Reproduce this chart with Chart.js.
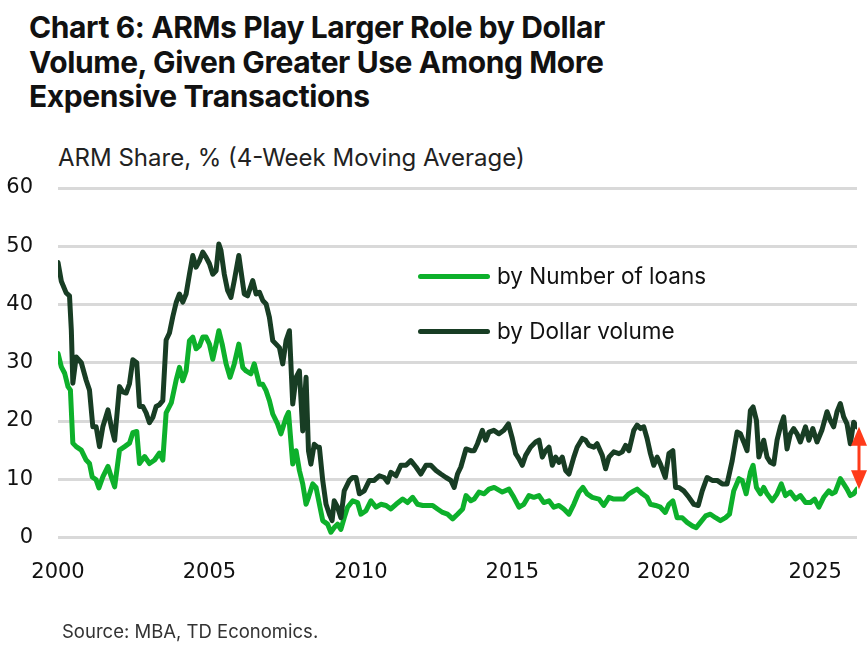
<!DOCTYPE html>
<html>
<head>
<meta charset="utf-8">
<script src="https://cdn.jsdelivr.net/npm/chart.js@4.4.1/dist/chart.umd.min.js"></script>
<style>
	body { margin: 0; background: #ffffff; font-family: "Inter", "Noto Sans", sans-serif; color: #111; }
	#wrap { position: relative; width: 868px; height: 648px; overflow: hidden; }
	#title { position: absolute; left: 29px; top: 10px; font-size: 30px; font-weight: 700; line-height: 34.5px; letter-spacing: -0.4px; color: #111; }
	#subTitle { position: absolute; left: 58px; top: 143px; font-size: 24px; color: #222; }
	#source { position: absolute; left: 62px; top: 620px; font-size: 18.5px; color: #333; }
	.legItem { position: absolute; left: 418px; font-size: 22.5px; color: #111; white-space: nowrap; }
	.legLine { display: inline-block; width: 72px; height: 5px; border-radius: 3px; vertical-align: middle; margin-right: 7px; position: relative; top: -1px; }
	#chartCanvas { position: absolute; left: 0; top: 0; }
</style>
</head>
<body>
<div id="wrap">
	<div id="title">Chart 6: ARMs Play Larger Role by Dollar<br>Volume, Given Greater Use Among More<br>Expensive Transactions</div>
	<div id="subTitle">ARM Share, % (4-Week Moving Average)</div>
	<canvas id="chartCanvas" width="868" height="648"></canvas>
	<div class="legItem" id="legNum" style="top: 262px;"></div>
	<div class="legItem" id="legDol" style="top: 317px;"></div>
	<div id="source">Source: MBA, TD Economics.</div>
</div>

<script>
//x축 눈금 (년)
var yearTicks = [2000, 2005, 2010, 2015, 2020, 2025];

//by Number of loans
var numYears = [2000.00,2000.11,2000.22,2000.33,2000.41,2000.49,2000.60,2000.77,2000.93,
	2001.04,2001.13,2001.26,2001.35,2001.48,2001.65,2001.76,2001.87,
	2002.03,2002.20,2002.36,2002.47,2002.60,2002.69,2002.86,
	2003.02,2003.19,2003.35,2003.46,2003.57,2003.74,2003.90,
	2004.01,2004.12,2004.23,2004.34,2004.45,2004.56,2004.67,2004.78,2004.89,
	2005.00,2005.11,2005.22,2005.31,2005.42,2005.55,2005.68,2005.82,2005.97,
	2006.10,2006.21,2006.37,2006.48,2006.65,2006.76,2006.87,2006.98,
	2007.09,2007.25,2007.36,2007.53,2007.61,2007.75,2007.86,2007.97,
	2008.08,2008.19,2008.27,2008.41,2008.52,2008.74,2008.90,
	2009.01,2009.12,2009.23,2009.34,2009.45,2009.56,2009.73,2009.89,
	2010.00,2010.17,2010.33,2010.50,2010.66,2010.83,2010.99,
	2011.16,2011.38,2011.54,2011.71,2011.87,
	2012.04,2012.20,2012.37,2012.53,2012.70,2012.86,
	2013.03,2013.19,2013.36,2013.47,2013.63,2013.74,2013.90,
	2014.07,2014.23,2014.40,2014.67,2014.89,
	2015.05,2015.22,2015.38,2015.55,2015.71,2015.88,
	2016.04,2016.21,2016.37,2016.54,2016.70,2016.87,
	2017.03,2017.20,2017.33,2017.47,2017.64,2017.86,
	2018.02,2018.19,2018.35,2018.52,2018.68,2018.85,
	2019.01,2019.12,2019.29,2019.45,2019.56,2019.73,2019.89,
	2020.05,2020.17,2020.30,2020.44,2020.61,2020.77,2020.94,
	2021.07,2021.21,2021.38,2021.54,2021.71,2021.87,
	2022.04,2022.17,2022.31,2022.48,2022.59,2022.72,2022.86,2022.95,
	2023.06,2023.19,2023.30,2023.41,2023.58,2023.74,2023.88,
	2024.02,2024.18,2024.35,2024.51,2024.68,2024.84,2024.98,
	2025.12,2025.28,2025.45,2025.55,2025.66,2025.83,2025.94,
	2026.05,2026.16,2026.27,2026.38];
var numShare = [31.6,29.3,28.2,25.9,25.3,16.2,15.6,15.0,13.3,
	12.7,10.4,9.9,8.5,10.4,12.2,10.4,8.7,
	15.0,15.6,16.2,18.0,18.2,12.7,13.9,
	12.7,13.3,14.5,13.3,21.4,23.1,27.0,
	29.2,26.9,28.6,33.8,34.4,32.4,32.9,34.4,34.4,
	33.2,30.6,33.2,35.5,33.2,29.8,27.5,29.8,33.2,
	29.2,28.6,28.1,29.8,26.3,26.3,25.2,23.5,
	21.2,19.5,17.8,20.6,21.5,12.6,14.9,11.5,
	9.2,5.7,6.9,9.2,8.6,2.9,2.3,
	0.9,1.7,2.3,1.4,3.4,5.2,6.3,6.0,
	4.0,4.6,6.3,5.2,5.7,5.5,4.9,
	5.7,6.6,6.0,6.9,5.7,
	5.5,5.5,5.5,4.9,4.3,4.0,
	3.2,4.0,4.9,7.2,6.3,6.6,7.8,
	7.5,8.3,8.6,7.8,8.3,
	6.9,5.2,5.7,7.2,6.9,7.2,
	6.0,6.3,5.2,5.5,4.9,4.0,
	5.7,7.8,8.6,7.5,6.9,6.6,
	5.5,6.9,6.6,6.6,6.6,7.5,
	8.0,8.3,7.5,6.9,5.7,5.5,5.2,
	4.3,5.7,6.3,3.4,3.4,2.6,2.0,
	1.7,2.6,3.7,4.0,3.4,2.9,
	3.4,4.0,8.0,10.1,9.8,7.5,11.2,12.4,
	8.6,7.5,8.6,7.5,6.3,7.5,9.2,
	7.2,7.8,6.6,7.2,6.0,6.0,6.6,
	5.2,6.9,8.0,7.5,7.8,10.1,9.2,
	8.3,7.2,7.5,8.3];

//by Dollar volume
var dolYears = [2000.00,2000.11,2000.27,2000.38,2000.44,2000.49,2000.60,2000.77,2000.93,
	2001.04,2001.15,2001.26,2001.37,2001.48,2001.65,2001.76,2001.87,
	2002.03,2002.14,2002.25,2002.36,2002.47,2002.60,2002.69,2002.80,2002.91,
	2003.02,2003.13,2003.24,2003.35,2003.46,2003.57,2003.68,2003.79,2003.90,
	2004.01,2004.12,2004.23,2004.34,2004.45,2004.56,2004.67,2004.78,2004.89,
	2005.00,2005.11,2005.22,2005.31,2005.38,2005.49,2005.60,2005.71,2005.82,2005.97,
	2006.04,2006.15,2006.26,2006.43,2006.54,2006.65,2006.76,2006.87,2006.98,
	2007.09,2007.20,2007.31,2007.42,2007.53,2007.64,2007.75,2007.86,2007.97,
	2008.08,2008.19,2008.27,2008.35,2008.46,2008.57,2008.63,2008.74,2008.85,2008.96,
	2009.05,2009.12,2009.23,2009.34,2009.45,2009.62,2009.73,2009.84,2009.95,
	2010.11,2010.28,2010.44,2010.61,2010.77,2010.88,2010.99,
	2011.16,2011.32,2011.49,2011.65,2011.82,2011.98,
	2012.15,2012.31,2012.48,2012.64,2012.81,2012.97,
	2013.08,2013.19,2013.30,2013.47,2013.63,2013.74,2013.85,
	2014.01,2014.12,2014.23,2014.39,2014.56,2014.72,2014.87,
	2015.00,2015.11,2015.22,2015.33,2015.44,2015.60,2015.77,2015.88,2015.99,
	2016.10,2016.21,2016.32,2016.43,2016.54,2016.65,2016.76,2016.87,
	2017.03,2017.14,2017.31,2017.42,2017.53,2017.69,2017.80,2017.97,
	2018.08,2018.19,2018.35,2018.52,2018.63,2018.74,2018.85,
	2019.01,2019.12,2019.23,2019.34,2019.45,2019.56,2019.67,2019.78,2019.89,
	2020.05,2020.17,2020.30,2020.39,2020.50,2020.66,2020.83,2020.99,
	2021.14,2021.27,2021.43,2021.60,2021.76,2021.93,
	2022.09,2022.26,2022.42,2022.53,2022.64,2022.75,2022.86,2022.95,
	2023.06,2023.14,2023.30,2023.41,2023.52,2023.63,2023.74,2023.85,2023.96,
	2024.07,2024.18,2024.29,2024.40,2024.51,2024.68,2024.79,2024.92,
	2025.06,2025.22,2025.39,2025.50,2025.61,2025.72,2025.83,2025.94,
	2026.05,2026.16,2026.27,2026.38];
var dolShare = [47.2,44.0,42.0,41.5,35.6,26.5,31.0,30.0,27.0,
	25.3,19.0,19.0,15.6,19.0,21.9,19.0,16.7,
	25.9,25.0,24.8,26.4,30.5,30.0,22.5,22.5,21.4,
	19.7,20.6,22.5,22.8,23.5,33.9,35.1,37.9,40.3,
	41.8,40.4,41.8,45.2,48.4,46.4,47.5,49.0,48.1,
	47.0,45.2,45.8,50.4,49.3,45.2,42.4,41.2,44.1,48.4,
	45.8,41.8,41.5,44.1,41.8,42.1,40.7,40.1,37.8,
	33.8,33.2,32.6,29.8,33.8,35.5,22.9,27.5,28.6,
	18.3,27.5,14.9,12.6,16.0,15.5,15.5,9.8,5.7,4.0,
	2.9,6.3,5.2,3.4,8.0,9.8,10.3,10.3,7.5,
	8.0,9.8,9.8,10.6,10.3,9.5,11.2,
	10.6,12.4,12.4,13.2,12.1,10.9,
	12.4,12.4,11.5,10.9,10.3,9.8,
	8.6,10.9,12.1,15.2,14.9,14.9,16.1,
	18.4,16.7,18.1,18.4,17.8,18.4,19.5,
	17.0,14.4,13.5,12.4,14.1,15.5,16.4,16.7,13.8,
	14.9,15.5,12.4,13.8,12.9,13.8,11.5,10.9,
	13.8,15.5,17.0,16.7,15.8,15.5,16.1,14.1,
	11.8,13.8,14.7,14.4,14.7,15.8,14.9,
	18.4,19.3,18.7,19.0,17.0,14.4,12.4,13.8,12.6,
	10.3,14.4,14.9,8.6,8.6,8.0,6.9,5.7,
	5.5,8.0,10.3,9.8,9.8,9.2,
	9.2,13.2,18.1,17.8,16.4,14.9,21.8,22.4,
	20.1,13.8,16.7,13.8,12.9,12.6,16.7,19.0,20.7,
	15.2,17.8,18.7,17.8,16.4,19.0,16.7,18.7,
	16.4,18.4,21.6,20.1,19.0,21.6,23.0,20.7,
	19.5,16.1,19.8,19.0];

var numColor = "#0db02b";
var dolColor = "#183d24";
var arrowColor = "#ff3b1a";
var tickFont = { family: "DejaVu Sans", size: 21 };

$ready(function () {
	drawLegend();
	drawArmChart();
});

function $ready(fn){
	if(document.readyState != "loading"){
		fn();
	}else{
		document.addEventListener("DOMContentLoaded", fn);
	}
}

//범례
function drawLegend(){
	document.getElementById("legNum").innerHTML = '<span class="legLine" style="background:' + numColor + ';"></span>by Number of loans';
	document.getElementById("legDol").innerHTML = '<span class="legLine" style="background:' + dolColor + ';"></span>by Dollar volume';
}

function toPoints(xs, ys){
	var arr = [];
	for(var i = 0; i < xs.length; i++){
		arr.push({x: xs[i], y: ys[i]});
	}
	return arr;
}

//마지막 시점 차이 화살표
var gapArrowPlugin = {
	id: "gapArrow",
	afterDatasetsDraw: function(chart){
		var dolMeta = chart.getDatasetMeta(0);
		var numMeta = chart.getDatasetMeta(1);
		var pTop = dolMeta.data[dolMeta.data.length - 1];
		var pBot = numMeta.data[numMeta.data.length - 1];
		var ctx = chart.ctx;
		var x = pTop.x + 2;
		var headH = 19, headW = 8;

		ctx.save();
		ctx.strokeStyle = arrowColor;
		ctx.fillStyle = arrowColor;
		ctx.lineWidth = 3;
		ctx.beginPath();
		ctx.moveTo(x, pTop.y + headH - 2);
		ctx.lineTo(x, pBot.y - headH + 2);
		ctx.stroke();

		ctx.beginPath();
		ctx.moveTo(x, pTop.y);
		ctx.lineTo(x - headW, pTop.y + headH);
		ctx.lineTo(x + headW, pTop.y + headH);
		ctx.closePath();
		ctx.fill();

		ctx.beginPath();
		ctx.moveTo(x, pBot.y);
		ctx.lineTo(x - headW, pBot.y - headH);
		ctx.lineTo(x + headW, pBot.y - headH);
		ctx.closePath();
		ctx.fill();
		ctx.restore();
	}
};

//ARM 비중 차트
function drawArmChart(){
	var ctx = document.getElementById("chartCanvas").getContext("2d");

	var chartData = {
		datasets: [{
			label: "by Dollar volume",
			data: toPoints(dolYears, dolShare),
			borderColor: dolColor,
			backgroundColor: dolColor,
			borderWidth: 5,
			pointRadius: 0,
			tension: 0,
			borderJoinStyle: "round",
			borderCapStyle: "round"
		}, {
			label: "by Number of loans",
			data: toPoints(numYears, numShare),
			borderColor: numColor,
			backgroundColor: numColor,
			borderWidth: 5,
			pointRadius: 0,
			tension: 0,
			borderJoinStyle: "round",
			borderCapStyle: "round"
		}]
	};

	var armChart = new Chart(ctx, {
		type: "line",
		data: chartData,
		plugins: [gapArrowPlugin],
		options: {
			responsive: false,
			animation: false,
			layout: { padding: { top: 188, right: 11, left: 0, bottom: 0 } },
			plugins: {
				legend: { display: false },
				tooltip: { enabled: false }
			},
			scales: {
				x: {
					type: "linear",
					min: 2000,
					max: dolYears[dolYears.length - 1],
					grid: { display: false, drawTicks: false },
					border: { display: false },
					afterBuildTicks: function(scale){
						scale.ticks = yearTicks.map(function(v){ return {value: v}; });
					},
					afterFit: function(scale){ scale.height = 110.5; },
					ticks: {
						padding: 22,
						maxRotation: 0,
						color: "#111",
						font: tickFont,
						callback: function(v){ return String(v); }
					}
				},
				y: {
					min: 0,
					max: 60,
					grid: { color: "#d9d9d9", lineWidth: 3, drawTicks: false },
					border: { display: false },
					afterFit: function(scale){ scale.width = 58; },
					ticks: {
						stepSize: 10,
						padding: 25,
						color: "#111",
						font: tickFont
					}
				}
			}
		}
	});
}
</script>
</body>
</html>
